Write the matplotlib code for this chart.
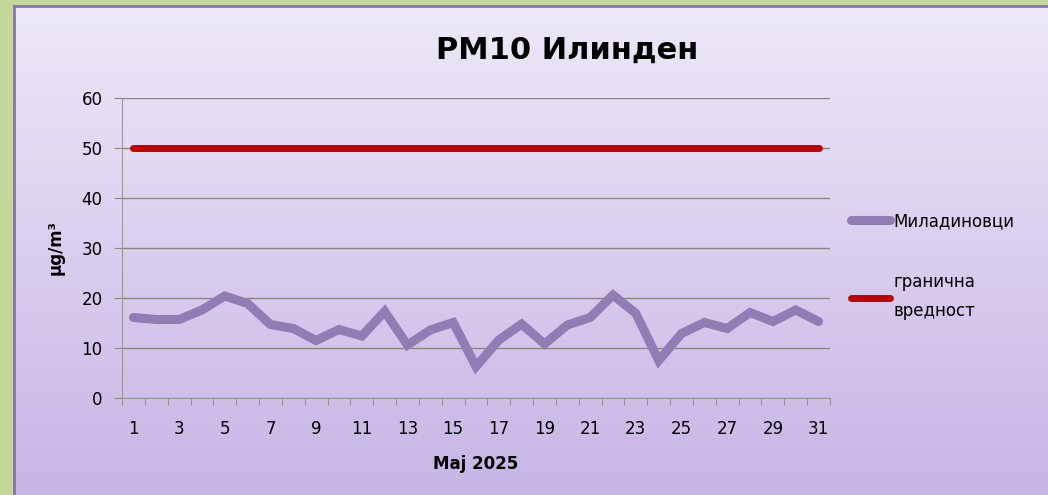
import numpy as np
import matplotlib.pyplot as plt

# podatoci
days = list(range(1, 32))
miladinovci = [16.1, 15.7, 15.7, 17.6, 20.4, 18.9, 14.7, 13.9, 11.5, 13.7,
               12.4, 17.3, 10.6, 13.6, 15.1, 6.3, 11.6, 14.8, 10.8, 14.6,
               16.1, 20.6, 16.9, 7.5, 12.9, 15.1, 13.9, 17.1, 15.3, 17.6, 15.3]
limit = [50] * 31
yticks = [0, 10, 20, 30, 40, 50, 60]
xlabels = [str(d) for d in days if d % 2 == 1]

plt.rcParams['font.family'] = ['DejaVu Sans']

fig = plt.figure(figsize=(10.48, 4.95), dpi=100)
fig.patch.set_facecolor('#c4d79b')

# pozadina so gradient
bg = fig.add_axes([14 / 1048, 0, 1 - 14 / 1048, (495 - 6) / 495])
grad = np.linspace(0, 1, 256).reshape(-1, 1)
top = np.array([0.93, 0.91, 0.97])
bot = np.array([0.78, 0.71, 0.90])
img = top + (bot - top) * grad[:, :, None]
bg.imshow(img, aspect='auto', extent=[0, 1, 0, 1])
bg.set_xticks([])
bg.set_yticks([])
for s in ['top', 'left']:
    bg.spines[s].set_color('#8d6fb8')
    bg.spines[s].set_linewidth(2)
for s in ['right', 'bottom']:
    bg.spines[s].set_visible(False)

ax = fig.add_axes([122 / 1048, 97 / 495, (830 - 122) / 1048, 300 / 495])
ax.patch.set_alpha(0)

ax.plot(days, limit, color='#c00000', lw=5, solid_capstyle='round', label='гранична\nвредност', zorder=3)
ax.plot(days, miladinovci, color='#907db3', lw=6.5, solid_joinstyle='miter', solid_capstyle='round',
        label='Миладиновци', zorder=4)

ax.set_xlim(0.5, 31.5)
ax.set_ylim(0, 60)
ax.set_yticks(yticks)
ax.set_xticks([d for d in days if d % 2 == 1])
ax.set_xticklabels(xlabels)
ax.set_xticks(np.arange(0.5, 32, 1), minor=True)
ax.tick_params(axis='x', which='major', length=0, pad=16, labelsize=12)
ax.tick_params(axis='x', which='minor', length=5, color='#888888')
ax.tick_params(axis='y', length=6, color='#888888', labelsize=12, pad=8)
ax.grid(axis='y', color='#888888', lw=1)
for s in ['top', 'right']:
    ax.spines[s].set_visible(False)
for s in ['left', 'bottom']:
    ax.spines[s].set_color('#999999')

ax.set_xlabel('Maj 2025', fontsize=12, fontweight='bold', labelpad=12)
ax.set_ylabel('µg/m³', fontsize=12, fontweight='bold', labelpad=12)
fig.text(567 / 1048, 1 - 50 / 495, 'PM10 Илинден', fontsize=22, fontweight='bold',
         ha='center', va='center')

h, l = ax.get_legend_handles_labels()
leg = ax.legend(h[::-1], l[::-1], loc='upper left', bbox_to_anchor=(1.009, 0.67),
                frameon=False, fontsize=12, handlelength=2.3, handletextpad=0.25,
                labelspacing=2.6)
for t in leg.get_texts():
    t.set_linespacing(1.75)

plt.savefig('out.png', dpi=100, facecolor=fig.get_facecolor())
